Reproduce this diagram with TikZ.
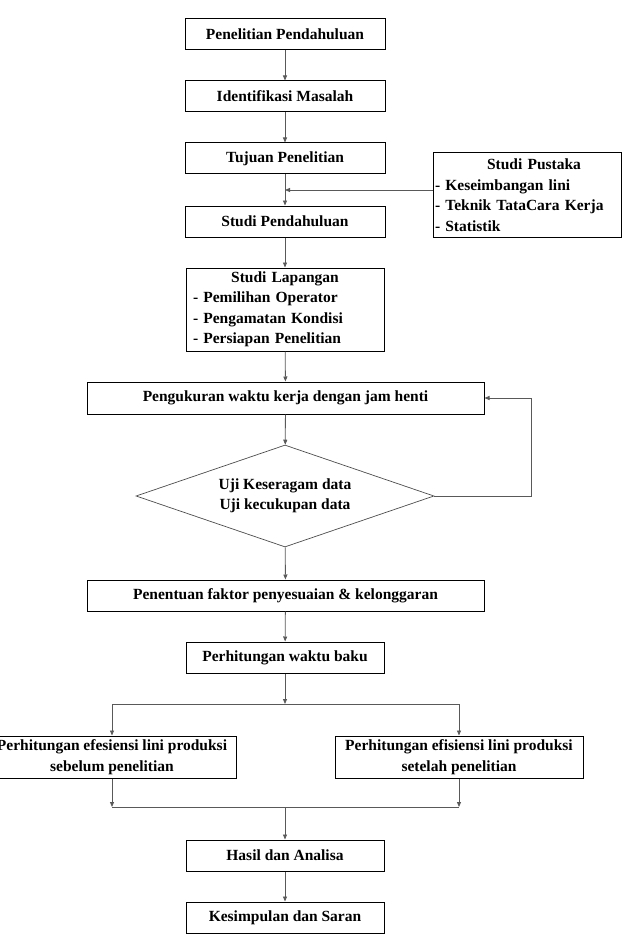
\documentclass[tikz,border=0pt]{standalone}
\usepackage{fontspec}
\setmainfont{Liberation Serif}
\usetikzlibrary{arrows.meta}
\usetikzlibrary{shapes.geometric}

\begin{document}
\begin{tikzpicture}[x=1pt,y=-1pt,
        kotak/.style={draw=black, line width=1pt, minimum width=200pt, minimum height=31pt,
            inner sep=0pt, font=\fontsize{15.5}{20.5}\selectfont\bfseries},
        panah/.style={draw=black!65, line width=0.8pt, -{Triangle[length=5pt,width=4pt]}},
        garis/.style={draw=black!65, line width=0.8pt}]
        \useasboundingbox (0,0) rectangle (622,944);

        \node[kotak] (awal) at (285,34) {Penelitian Pendahuluan};
        \node[kotak] (masalah) at (285,96.5) {Identifikasi Masalah};
        \node[kotak] (tujuan) at (285,158.5) {Tujuan Penelitian};
        \node[kotak] (pendahuluan) at (285,221.5) {Studi Pendahuluan};
        \node[kotak, minimum width=188pt, minimum height=84pt, text width=184pt, align=left] (pustaka) at (527,195)
            {\makebox[184pt]{\hspace{14pt}Studi Pustaka}\\- Keseimbangan lini\\- Teknik TataCara Kerja\\- Statistik};
        \node[kotak, minimum width=198pt, minimum height=83pt, text width=184pt, align=left] (lapangan) at (285,309.5)
            {\makebox[184pt]{Studi Lapangan}\\- Pemilihan Operator\\- Pengamatan Kondisi\\- Persiapan Penelitian};
        \node[kotak, minimum width=397pt, minimum height=32pt] (ukur) at (285.5,398) {Pengukuran waktu kerja dengan jam henti};
        \node[kotak, diamond, draw=black!70, line width=0.7pt, minimum width=298pt, minimum height=102pt, aspect=2.9, align=center] (uji) at (285,496)
            {Uji Keseragam data\\Uji kecukupan data};
        \node[kotak, minimum width=397pt] (tentu) at (285.5,595.5) {Penentuan faktor penyesuaian \& kelonggaran};
        \node[kotak, minimum width=198pt] (baku) at (285,657.5) {Perhitungan waktu baku};
        \node[kotak, minimum width=248pt, minimum height=42pt, align=center] (kiri) at (112,757)
            {Perhitungan efesiensi lini produksi\\sebelum penelitian};
        \node[kotak, minimum width=248pt, minimum height=42pt, align=center] (kanan) at (459,757)
            {Perhitungan efisiensi lini produksi\\setelah penelitian};
        \node[kotak, minimum width=198pt] (hasil) at (285,855.5) {Hasil dan Analisa};
        \node[kotak, minimum width=198pt] (simpul) at (285,917.5) {Kesimpulan dan Saran};

        \coordinate (temu) at (285,190);
        \coordinate (belok) at (531,496);
        \coordinate (pisah) at (285,704);
        \coordinate (gabung) at (285,807);

        \draw[panah] (awal) -- (masalah);
        \draw[panah] (masalah) -- (tujuan);
        \draw[panah] (tujuan) -- (pendahuluan);
        \draw[panah] (pustaka.west |- temu) -- (temu);
        \draw[panah] (pendahuluan) -- (lapangan);
        \draw[panah] (lapangan) -- (ukur);
        \draw[panah] (ukur) -- (uji);
        \draw[panah] (uji.east) -- (belok) |- (ukur.east);
        \draw[panah] (uji) -- (tentu);
        \draw[panah] (tentu) -- (baku);
        \draw[panah] (baku) -- (pisah);
        \draw[panah] (pisah) -| (kiri.north);
        \draw[panah] (pisah) -| (kanan.north);
        \draw[panah] (kiri.south) -- (kiri.south |- gabung);
        \draw[panah] (kanan.south) -- (kanan.south |- gabung);
        \draw[garis] (kiri.south |- gabung) -- (kanan.south |- gabung);
        \draw[panah] (gabung) -- (hasil);
        \draw[panah] (hasil) -- (simpul);
    \end{tikzpicture}
\end{document}
